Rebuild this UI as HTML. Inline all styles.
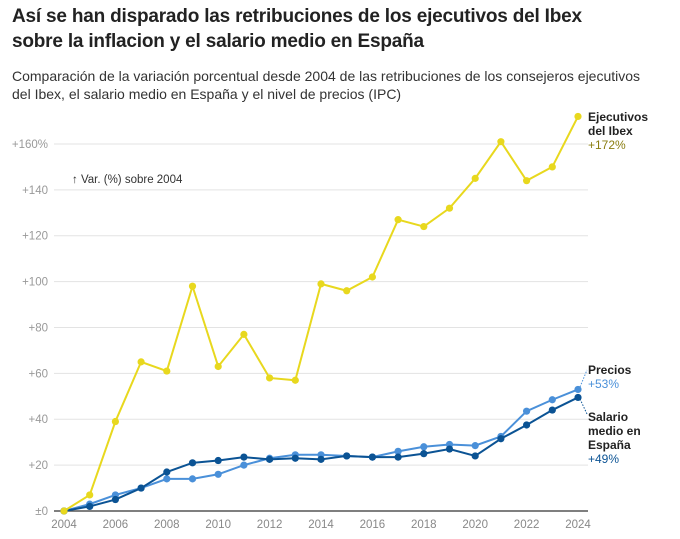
<!DOCTYPE html>
<html><head><meta charset="utf-8"><style>
body{margin:0;width:680px;height:539px;background:#fff;font-family:"Liberation Sans",Arial,sans-serif;overflow:hidden}
h1{position:absolute;left:12px;top:4px;margin:0;font-size:19px;line-height:25px;font-weight:bold;color:#222;letter-spacing:-0.2px}
.sub{position:absolute;left:12px;top:67px;font-size:14px;line-height:18px;color:#333}
svg{position:absolute;left:0;top:0}
</style></head><body>
<h1>Así se han disparado las retribuciones de los ejecutivos del Ibex<br>sobre la inflacion y el salario medio en España</h1>
<div class="sub">Comparación de la variación porcentual desde 2004 de las retribuciones de los consejeros ejecutivos<br>del Ibex, el salario medio en España y el nivel de precios (IPC)</div>
<svg id="c" width="680" height="539" font-family="Liberation Sans, Arial, sans-serif"></svg>
<script>
const s=document.getElementById('c');
const X=y=>64+(y-2004)*25.7, Y=v=>511-v*2.294;
let h='';
[20,40,60,80,100,120,140,160].forEach(v=>{h+=`<line x1="54" x2="588" y1="${Y(v)}" y2="${Y(v)}" stroke="#e3e3e3" stroke-width="1"/>`;
h+=`<text x="48" y="${Y(v)+4}" text-anchor="end" font-size="11.5" fill="#999">+${v}${v==160?'%':''}</text>`});
h+=`<text x="48" y="${515}" text-anchor="end" font-size="11.5" fill="#999">±0</text>`;
h+=`<line x1="54" x2="588" y1="511" y2="511" stroke="#555" stroke-width="1.5"/>`;
for(let y=2004;y<=2024;y+=2)h+=`<text x="${X(y)}" y="528" text-anchor="middle" font-size="11.5" fill="#888">${y}</text>`;
h+=`<text x="72" y="183" font-size="11.5" fill="#333">↑ Var. (%) sobre 2004</text>`;
const ser=[
["#4a90d9",[0,3,7,10,14,14,16,20,23,24.5,24.5,24,23.5,26,28,29,28.5,32.5,43.5,48.5,53]],
["#0b5394",[0,2,5,10,17,21,22,23.5,22.5,23,22.5,24,23.5,23.5,25,27,24,31.5,37.5,44,49.5]],
["#e8d81e",[0,7,39,65,61,98,63,77,58,57,99,96,102,127,124,132,145,161,144,150,172]]];
ser.forEach(([c,d])=>{h+=`<polyline fill="none" stroke="${c}" stroke-width="2" points="${d.map((v,i)=>X(2004+i)+','+Y(v)).join(' ')}"/>`;
d.forEach((v,i)=>h+=`<circle cx="${X(2004+i)}" cy="${Y(v)}" r="3.6" fill="${c}"/>`)});
h+=`<line x1="580" y1="387" x2="587" y2="370" stroke="#4a90d9" stroke-dasharray="1.5,1.5"/>`;
h+=`<line x1="580" y1="399" x2="587" y2="414" stroke="#0b5394" stroke-dasharray="1.5,1.5"/>`;
const t=(x,y,txt,c,b)=>h+=`<text x="${x}" y="${y}" font-size="12" fill="${c}" ${b?'font-weight="bold"':''}>${txt}</text>`;
t(588,121,"Ejecutivos","#222",1);t(588,135,"del Ibex","#222",1);t(588,149,"+172%","#8a7d10");
t(588,374,"Precios","#222",1);t(588,388,"+53%","#4a90d9");
t(588,421,"Salario","#222",1);t(588,435,"medio en","#222",1);t(588,449,"España","#222",1);t(588,463,"+49%","#0b5394");
s.innerHTML=h;
</script>
</body></html>
